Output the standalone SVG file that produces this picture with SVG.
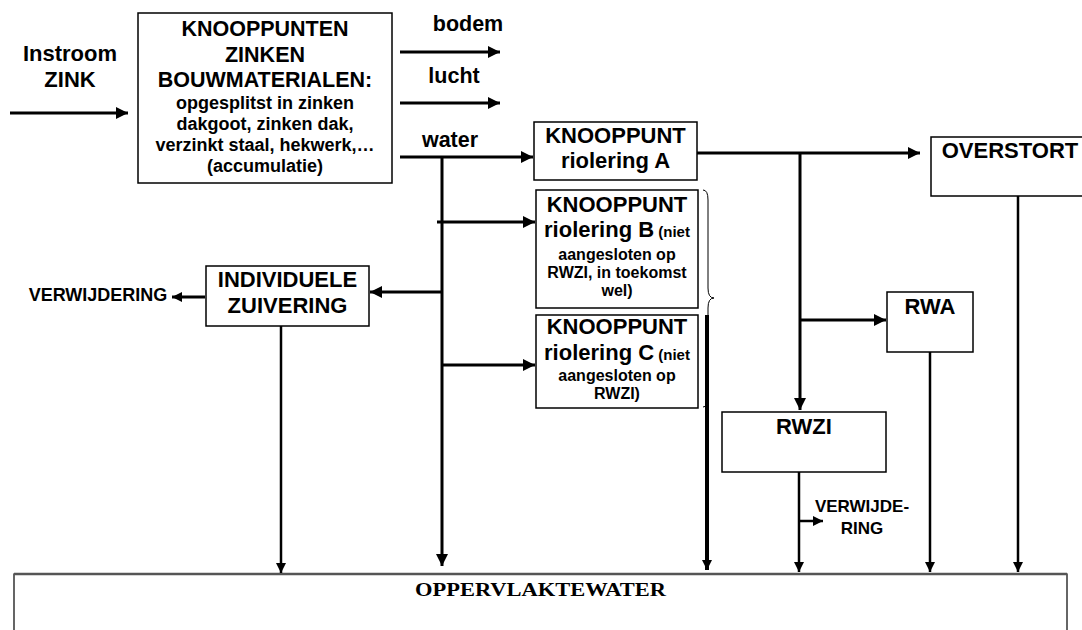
<svg xmlns="http://www.w3.org/2000/svg" width="1082" height="630" viewBox="0 0 1082 630">
<style>
.box{fill:#fff;stroke:#000;stroke-width:1.5}
.t{font-family:"Liberation Sans",Arial,sans-serif;font-weight:bold;fill:#000;text-anchor:middle}
.l{font-size:22px}
.s{font-size:16px}
.m{font-size:18px}
.c line,.c path{stroke:#000;fill:none}
.w3{stroke-width:3}
.w2{stroke-width:2.5}
</style>
<defs>
<marker id="ah" markerUnits="userSpaceOnUse" markerWidth="12" markerHeight="12" refX="12" refY="6" orient="auto">
<path d="M0,0 L12,6 L0,12 z" fill="#000"/>
</marker>
<marker id="as" markerUnits="userSpaceOnUse" markerWidth="10" markerHeight="10" refX="10" refY="5" orient="auto">
<path d="M0,0 L10,5 L0,10 z" fill="#000"/>
</marker>
</defs>

<g id="instroom">
<text class="t l" x="70" y="61">Instroom</text>
<text class="t l" x="70" y="87">ZINK</text>
</g>

<g id="bouwmaterialen">
<rect class="box" x="138" y="13" width="254" height="170"/>
<text class="t" x="265" y="36" font-size="21.5">KNOOPPUNTEN</text>
<text class="t" x="265" y="62" font-size="21.5">ZINKEN</text>
<text class="t" x="265" y="87" font-size="21.5">BOUWMATERIALEN:</text>
<text class="t m" x="265" y="109">opgesplitst in zinken</text>
<text class="t m" x="265" y="130">dakgoot, zinken dak,</text>
<text class="t m" x="265" y="151">verzinkt staal, hekwerk,…</text>
<text class="t m" x="265" y="172">(accumulatie)</text>
</g>

<g id="labels">
<text class="t" x="468" y="31" font-size="21.5">bodem</text>
<text class="t" x="454" y="83" font-size="21.5">lucht</text>
<text class="t" x="450" y="147" font-size="21.5">water</text>
</g>

<g id="riolering-a">
<rect class="box" x="534" y="122" width="163" height="58"/>
<text class="t l" x="615.5" y="143">KNOOPPUNT</text>
<text class="t l" x="615.5" y="168">riolering A</text>
</g>

<g id="riolering-b">
<rect class="box" x="536" y="190" width="162" height="118"/>
<text class="t l" x="617" y="212">KNOOPPUNT</text>
<text class="t" x="617" y="237"><tspan font-size="22">riolering B</tspan><tspan font-size="15"> (niet</tspan></text>
<text class="t s" x="617" y="260">aangesloten op</text>
<text class="t s" x="617" y="278">RWZI, in toekomst</text>
<text class="t s" x="617" y="296">wel)</text>
</g>

<g id="riolering-c">
<rect class="box" x="536" y="315" width="162" height="93"/>
<text class="t l" x="617" y="334">KNOOPPUNT</text>
<text class="t" x="617" y="360"><tspan font-size="22">riolering C</tspan><tspan font-size="15"> (niet</tspan></text>
<text class="t s" x="617" y="381">aangesloten op</text>
<text class="t s" x="617" y="399">RWZI)</text>
</g>

<g id="overstort">
<rect class="box" x="931" y="137" width="160" height="59"/>
<text class="t l" x="1010" y="158">OVERSTORT</text>
</g>

<g id="individuele-zuivering">
<rect class="box" x="206" y="266" width="163" height="60"/>
<text class="t l" x="287.5" y="287">INDIVIDUELE</text>
<text class="t l" x="287.5" y="313">ZUIVERING</text>
</g>

<g id="verwijdering">
<text class="t m" x="98" y="301">VERWIJDERING</text>
</g>

<g id="rwa">
<rect class="box" x="887" y="292" width="86" height="60"/>
<text class="t l" x="930" y="314">RWA</text>
</g>

<g id="rwzi">
<rect class="box" x="722" y="412" width="164" height="60"/>
<text class="t l" x="804" y="434">RWZI</text>
</g>

<g id="verwijdering-rwzi">
<text class="t" x="862" y="512" font-size="17">VERWIJDE-</text>
<text class="t" x="862" y="534" font-size="17">RING</text>
</g>

<g id="oppervlaktewater">
<rect x="14" y="574" width="1053" height="80" fill="#fff" stroke="#000" stroke-width="1.2"/>
<line x1="14" y1="574" x2="1067" y2="574" stroke="#555" stroke-width="2.5"/>
<text x="540.5" y="596" font-family="'Liberation Serif','Times New Roman',serif" font-weight="bold" font-size="19.5" text-anchor="middle" textLength="251" lengthAdjust="spacingAndGlyphs">OPPERVLAKTEWATER</text>
</g>

<g id="brace">
<path d="M703,190 Q708,190 708,200 L708,288 Q708,298 714,298 Q708,298 708,308 L708,397 Q708,407 703,407" fill="none" stroke="#000" stroke-width="1"/>
</g>

<g id="connectors" class="c">
<line class="w3" x1="10" y1="113" x2="128" y2="113" marker-end="url(#ah)"/>
<line class="w3" x1="400" y1="52" x2="500" y2="52" marker-end="url(#ah)"/>
<line class="w3" x1="400" y1="103" x2="500" y2="103" marker-end="url(#ah)"/>
<line class="w3" x1="400" y1="157" x2="533" y2="157" marker-end="url(#ah)"/>
<line class="w3" x1="442" y1="157" x2="442" y2="566" marker-end="url(#ah)"/>
<line class="w3" x1="437" y1="222" x2="535" y2="222" marker-end="url(#ah)"/>
<line class="w3" x1="442" y1="365" x2="535" y2="365" marker-end="url(#ah)"/>
<line class="w3" x1="442" y1="292" x2="370" y2="292" marker-end="url(#ah)"/>
<line class="w3" x1="205" y1="297" x2="172" y2="297" marker-end="url(#as)"/>
<line class="w3" x1="697" y1="153" x2="920" y2="153" marker-end="url(#ah)"/>
<line class="w3" x1="800" y1="153" x2="800" y2="410" marker-end="url(#ah)"/>
<line class="w3" x1="800" y1="320" x2="886" y2="320" marker-end="url(#ah)"/>
<line class="w2" x1="281" y1="326" x2="281" y2="573" marker-end="url(#as)"/>
<line stroke-width="4" x1="707" y1="315" x2="707" y2="570" marker-end="url(#as)"/>
<line class="w2" x1="799" y1="472" x2="799" y2="572" marker-end="url(#as)"/>
<line class="w2" x1="799" y1="521" x2="823" y2="521" marker-end="url(#as)"/>
<line class="w2" x1="930" y1="352" x2="930" y2="572" marker-end="url(#as)"/>
<line class="w2" x1="1018" y1="196" x2="1018" y2="572" marker-end="url(#as)"/>
</g>
</svg>
